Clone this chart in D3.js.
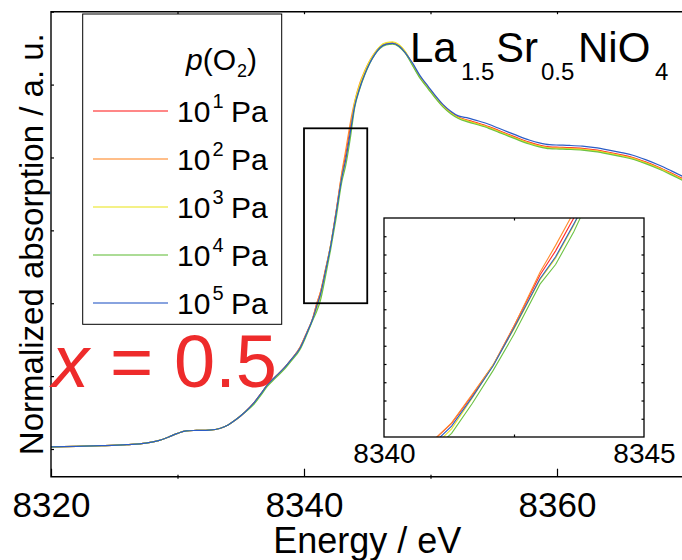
<!DOCTYPE html>
<html>
<head>
<meta charset="utf-8">
<script src="https://cdn.jsdelivr.net/npm/d3@7"></script>
<style>
  body { margin: 0; background: #fff; }
  svg { display: block; font-family: "Liberation Sans", Arial, Helvetica, sans-serif; }
</style>
</head>
<body>
<div id="chart"></div>
<script>
// Data
const energy = [
  8320, 8322, 8324, 8326, 8327.5, 8328.5, 8329.3, 8330, 8330.7, 8331.5,
  8332.5, 8333.4, 8334, 8334.6, 8335.3, 8336, 8336.6, 8337.1, 8337.7, 8338.4,
  8339, 8339.7, 8340.2, 8340.7, 8341, 8341.3, 8341.7, 8342.1, 8342.5, 8343,
  8343.3, 8343.65, 8344, 8344.4, 8344.8, 8345.2, 8345.6, 8346, 8346.5, 8347,
  8347.5, 8348, 8348.6, 8349.2, 8349.8, 8350.4, 8351, 8351.6, 8352.2, 8353,
  8353.8, 8354.6, 8355.4, 8356.2, 8357, 8357.8, 8358.6, 8359.4, 8360.2, 8361,
  8362, 8363, 8364, 8365, 8366, 8367, 8368, 8369, 8370
];

const absPa1 = [
  0.006, 0.007, 0.009, 0.012, 0.016, 0.023, 0.033, 0.043, 0.050, 0.051,
  0.052, 0.057, 0.066, 0.080, 0.100, 0.125, 0.152, 0.176, 0.197, 0.221,
  0.246, 0.280, 0.318, 0.360, 0.398, 0.430, 0.492, 0.558, 0.643, 0.755,
  0.808, 0.880, 0.945, 0.995, 1.032, 1.062, 1.085, 1.101, 1.111, 1.113,
  1.106, 1.088, 1.055, 1.020, 0.993, 0.966, 0.942, 0.924, 0.911, 0.902,
  0.894, 0.885, 0.874, 0.863, 0.852, 0.842, 0.834, 0.829, 0.828, 0.827,
  0.825, 0.821, 0.815, 0.808, 0.800, 0.788, 0.774, 0.758, 0.741
];
const absPa2 = [
  0.006, 0.007, 0.009, 0.012, 0.016, 0.023, 0.033, 0.043, 0.050, 0.051,
  0.052, 0.057, 0.066, 0.080, 0.100, 0.125, 0.152, 0.176, 0.197, 0.221,
  0.246, 0.280, 0.318, 0.360, 0.398, 0.431, 0.494, 0.558, 0.643, 0.761,
  0.820, 0.893, 0.953, 1.003, 1.038, 1.066, 1.088, 1.103, 1.113, 1.115,
  1.108, 1.090, 1.053, 1.018, 0.991, 0.964, 0.940, 0.922, 0.909, 0.900,
  0.892, 0.883, 0.872, 0.861, 0.850, 0.840, 0.832, 0.827, 0.826, 0.825,
  0.823, 0.819, 0.813, 0.806, 0.798, 0.786, 0.772, 0.756, 0.739
];
const absPa3 = [
  0.006, 0.007, 0.009, 0.012, 0.016, 0.023, 0.033, 0.043, 0.050, 0.051,
  0.052, 0.057, 0.066, 0.080, 0.100, 0.123, 0.150, 0.174, 0.195, 0.219,
  0.244, 0.277, 0.315, 0.357, 0.384, 0.418, 0.486, 0.558, 0.637, 0.745,
  0.792, 0.864, 0.949, 0.999, 1.036, 1.065, 1.087, 1.105, 1.115, 1.117,
  1.110, 1.091, 1.053, 1.018, 0.991, 0.964, 0.940, 0.922, 0.909, 0.899,
  0.891, 0.882, 0.871, 0.860, 0.849, 0.839, 0.831, 0.826, 0.825, 0.824,
  0.822, 0.818, 0.812, 0.805, 0.797, 0.785, 0.771, 0.755, 0.738
];
const absPa4 = [
  0.006, 0.007, 0.009, 0.012, 0.016, 0.023, 0.033, 0.043, 0.050, 0.051,
  0.052, 0.057, 0.066, 0.080, 0.100, 0.121, 0.148, 0.172, 0.193, 0.217,
  0.242, 0.274, 0.312, 0.354, 0.377, 0.408, 0.474, 0.546, 0.625, 0.735,
  0.778, 0.850, 0.935, 0.987, 1.026, 1.058, 1.082, 1.099, 1.109, 1.111,
  1.104, 1.086, 1.051, 1.016, 0.989, 0.962, 0.938, 0.920, 0.907, 0.897,
  0.889, 0.880, 0.869, 0.858, 0.847, 0.837, 0.829, 0.824, 0.823, 0.822,
  0.820, 0.816, 0.810, 0.803, 0.795, 0.783, 0.769, 0.753, 0.736
];
const absPa5 = [
  0.006, 0.007, 0.009, 0.012, 0.016, 0.023, 0.033, 0.043, 0.050, 0.051,
  0.052, 0.057, 0.066, 0.080, 0.100, 0.125, 0.152, 0.176, 0.197, 0.221,
  0.246, 0.278, 0.316, 0.358, 0.391, 0.424, 0.488, 0.556, 0.639, 0.747,
  0.795, 0.867, 0.940, 0.990, 1.028, 1.059, 1.083, 1.101, 1.111, 1.113,
  1.106, 1.088, 1.058, 1.023, 0.996, 0.969, 0.945, 0.927, 0.914, 0.908,
  0.900, 0.891, 0.880, 0.869, 0.858, 0.848, 0.840, 0.835, 0.834, 0.833,
  0.831, 0.827, 0.821, 0.814, 0.806, 0.794, 0.780, 0.764, 0.747
];

const seriesExponents = ["1", "2", "3", "4", "5"];
const seriesColors = ["#ff2a2a", "#ff8c2e", "#ece62a", "#6cc244", "#2b5cc6"];
const seriesValues = [absPa1, absPa2, absPa3, absPa4, absPa5];

const xMajorTicks = [8320, 8340, 8360];
const xMinorTicks = [8330, 8350, 8370];
const xTopTicks = [8330, 8340, 8350, 8360];
const yTicks = [0, 0.2, 0.4, 0.6, 0.8, 1.0, 1.2];
const zoomEnergy = [8340, 8345];
const zoomAbs = [0.40, 0.88];
const insetLabelTicks = [8340, 8345];
const insetMidTicks = [8342.5];
const insetYTicks = [0.44, 0.48, 0.52, 0.56, 0.60, 0.64, 0.68, 0.72, 0.76, 0.80, 0.84];

// Dimensions
const width = 682;
const height = 560;
const plot = { left: 51, right: 683.5, top: 11.7, bottom: 476.7 };
const inset = { left: 384, right: 644, top: 218, bottom: 437 };

const svg = d3.select("#chart")
  .append("svg")
  .attr("width", width)
  .attr("height", height);

const defs = svg.append("defs");
defs.append("clipPath").attr("id", "clip-main")
  .append("rect")
  .attr("x", plot.left).attr("y", plot.top)
  .attr("width", plot.right - plot.left).attr("height", plot.bottom - plot.top);
defs.append("clipPath").attr("id", "clip-inset")
  .append("rect")
  .attr("x", inset.left).attr("y", inset.top)
  .attr("width", inset.right - inset.left).attr("height", inset.bottom - inset.top);

// Scales
const xScale = d3.scaleLinear().domain([8320, 8370]).range([plot.left, plot.right]);
const yScale = d3.scaleLinear().domain([-0.076, 1.2]).range([plot.bottom, plot.top]);
const xInset = d3.scaleLinear().domain(zoomEnergy).range([inset.left, inset.right]);
const yInset = d3.scaleLinear().domain(zoomAbs).range([inset.bottom, inset.top]);

const series = seriesValues.map((vals, i) => ({
  exp: seriesExponents[i],
  color: seriesColors[i],
  points: energy.map((e, j) => [e, vals[j]])
}));

// Curves
const mainLine = d3.line()
  .x((d) => xScale(d[0]))
  .y((d) => yScale(d[1]))
  .curve(d3.curveMonotoneX);

svg.append("g")
  .attr("clip-path", "url(#clip-main)")
  .selectAll("path")
  .data(series)
  .join("path")
  .attr("d", (d) => mainLine(d.points))
  .attr("fill", "none")
  .attr("stroke", (d) => d.color)
  .attr("stroke-width", 1.2);

// Axes (main)
const axisStyle = (g) => {
  g.select(".domain").remove();
  g.selectAll(".tick line").attr("stroke", "#000").attr("stroke-width", 1.2);
};

svg.append("g")
  .attr("transform", `translate(0,${plot.bottom})`)
  .call(d3.axisBottom(xScale).tickValues(xMajorTicks).tickSize(-8).tickPadding(14).tickFormat(d3.format("d")))
  .call(axisStyle)
  .call((g) => g.selectAll(".tick text")
    .attr("fill", "#000")
    .attr("font-family", "Liberation Sans, Arial, sans-serif")
    .attr("font-size", 35)
    .attr("dy", 0)
    .attr("y", 40));

svg.append("g")
  .attr("transform", `translate(0,${plot.bottom + 2})`)
  .call(d3.axisBottom(xScale).tickValues(xMinorTicks).tickSize(-4).tickFormat(""))
  .call(axisStyle);

svg.append("g")
  .attr("transform", `translate(0,${plot.top})`)
  .call(d3.axisTop(xScale).tickValues(xTopTicks).tickSize(-2.5).tickFormat(""))
  .call(axisStyle);

svg.append("g")
  .attr("transform", `translate(${plot.left},0)`)
  .call(d3.axisLeft(yScale).tickValues(yTicks).tickSize(-3).tickFormat(""))
  .call(axisStyle);

// Frame
svg.append("path")
  .attr("d", `M${plot.right},${plot.top}H${plot.left}V${plot.bottom}H${plot.right}`)
  .attr("fill", "none")
  .attr("stroke", "#000")
  .attr("stroke-width", 1.4);

// Axis titles
svg.append("text")
  .attr("x", (plot.left + plot.right) / 2)
  .attr("y", 553)
  .attr("text-anchor", "middle")
  .attr("font-size", 36)
  .text("Energy / eV");

svg.append("text")
  .attr("transform", `translate(43,${(plot.top + plot.bottom) / 2}) rotate(-90)`)
  .attr("text-anchor", "middle")
  .attr("font-size", 33)
  .text("Normalized absorption / a. u.");

// Zoom rectangle
svg.append("rect")
  .attr("x", xScale(zoomEnergy[0]))
  .attr("y", yScale(zoomAbs[1]))
  .attr("width", xScale(zoomEnergy[1]) - xScale(zoomEnergy[0]))
  .attr("height", yScale(zoomAbs[0]) - yScale(zoomAbs[1]))
  .attr("fill", "none")
  .attr("stroke", "#000")
  .attr("stroke-width", 1.8);

// Legend
const legend = svg.append("g");
legend.append("rect")
  .attr("x", 82.7).attr("y", 14)
  .attr("width", 199).attr("height", 310.3)
  .attr("fill", "#fff")
  .attr("stroke", "#000")
  .attr("stroke-width", 1);

const legendTitle = legend.append("text")
  .attr("x", 186).attr("y", 70)
  .attr("font-size", 30);
legendTitle.append("tspan").attr("font-style", "italic").text("p");
legendTitle.append("tspan").text("(O");
legendTitle.append("tspan").attr("font-size", 18).attr("dy", 7).attr("dx", 1).text("2");
legendTitle.append("tspan").attr("dy", -7).text(")");

const legendRows = legend.selectAll("g.row")
  .data(series)
  .join("g")
  .attr("class", "row")
  .attr("transform", (d, i) => `translate(0,${111 + i * 48})`);

legendRows.append("line")
  .attr("x1", 93).attr("x2", 168)
  .attr("stroke", (d) => d.color)
  .attr("stroke-opacity", 0.75)
  .attr("stroke-width", 1.3);

const rowText = legendRows.append("text")
  .attr("x", 177).attr("y", 11)
  .attr("font-size", 30);
rowText.append("tspan").text("10");
rowText.append("tspan").attr("font-size", 20).attr("dy", -14).attr("dx", 2).text((d) => d.exp);
rowText.append("tspan").attr("x", 231).attr("dy", 14).text("Pa");

// Title annotations
const title = svg.append("text").attr("y", 61.7).attr("font-size", 42);
title.append("tspan").attr("x", 410).text("La");
title.append("tspan").attr("x", 461).attr("dy", 18).attr("font-size", 24).text("1.5");
title.append("tspan").attr("x", 496).attr("dy", -18).text("Sr");
title.append("tspan").attr("x", 541).attr("dy", 18).attr("font-size", 24).text("0.5");
title.append("tspan").attr("x", 578).attr("dy", -18).text("NiO");
title.append("tspan").attr("x", 655).attr("dy", 18).attr("font-size", 24).text("4");

const xLabel = svg.append("text")
  .attr("y", 387)
  .attr("font-size", 74)
  .attr("fill", "#ee2b2b");
xLabel.append("tspan").attr("x", 52).attr("font-style", "italic").text("x");
xLabel.append("tspan").attr("x", 110).text("=");
xLabel.append("tspan").attr("x", 174).text("0.5");

// Inset
svg.append("rect")
  .attr("x", inset.left).attr("y", inset.top)
  .attr("width", inset.right - inset.left).attr("height", inset.bottom - inset.top)
  .attr("fill", "#fff");

const insetLine = d3.line()
  .x((d) => xInset(d[0]))
  .y((d) => yInset(d[1]));

svg.append("g")
  .attr("clip-path", "url(#clip-inset)")
  .selectAll("path")
  .data(series)
  .join("path")
  .attr("d", (d) => insetLine(d.points.filter((p) => p[0] >= 8340 && p[0] <= 8345)))
  .attr("fill", "none")
  .attr("stroke", (d) => d.color)
  .attr("stroke-width", 1.1);

svg.append("g")
  .attr("transform", `translate(0,${inset.bottom})`)
  .call(d3.axisBottom(xInset).tickValues(insetLabelTicks).tickSize(0).tickPadding(14).tickFormat(d3.format("d")))
  .call(axisStyle)
  .call((g) => g.selectAll(".tick text")
    .attr("fill", "#000")
    .attr("font-family", "Liberation Sans, Arial, sans-serif")
    .attr("font-size", 28)
    .attr("dy", 0)
    .attr("y", 26));

svg.append("g")
  .attr("transform", `translate(0,${inset.bottom})`)
  .call(d3.axisBottom(xInset).tickValues(insetMidTicks).tickSize(-2.5).tickFormat(""))
  .call(axisStyle);
svg.append("g")
  .attr("transform", `translate(0,${inset.top})`)
  .call(d3.axisTop(xInset).tickValues(insetMidTicks).tickSize(-2.5).tickFormat(""))
  .call(axisStyle);
svg.append("g")
  .attr("transform", `translate(${inset.left},0)`)
  .call(d3.axisLeft(yInset).tickValues(insetYTicks).tickSize(-2.5).tickFormat(""))
  .call(axisStyle);
svg.append("g")
  .attr("transform", `translate(${inset.right},0)`)
  .call(d3.axisRight(yInset).tickValues(insetYTicks).tickSize(-2.5).tickFormat(""))
  .call(axisStyle);

svg.append("rect")
  .attr("x", inset.left).attr("y", inset.top)
  .attr("width", inset.right - inset.left).attr("height", inset.bottom - inset.top)
  .attr("fill", "none")
  .attr("stroke", "#000")
  .attr("stroke-width", 1.3);
</script>
</body>
</html>
